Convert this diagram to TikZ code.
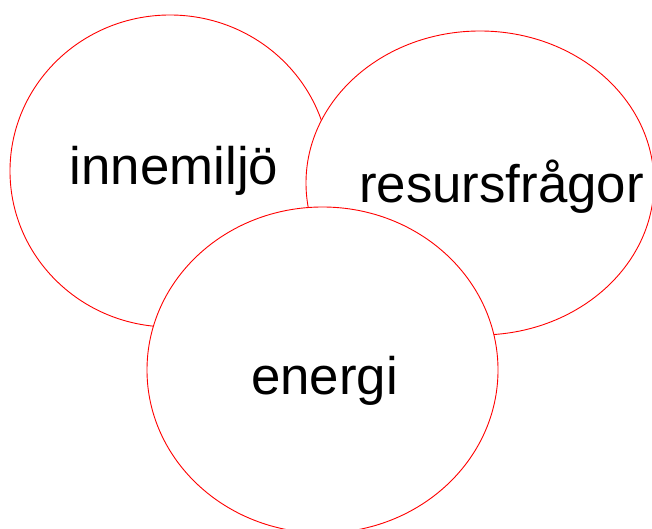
\documentclass[tikz,border=0pt]{standalone}
\usepackage{fontspec}
\setmainfont{Liberation Sans}
\usetikzlibrary{shapes.geometric}
\begin{document}
\begin{tikzpicture}[x=1bp,y=-1bp,
  blob/.style={ellipse,draw=red,fill=white,line width=0.9bp,inner sep=0pt},
  lbl/.style={anchor=base,font=\fontsize{53}{60}\selectfont,inner sep=0pt}]
\useasboundingbox (0,0) rectangle (652,529);
\node[blob,minimum width=320bp,minimum height=312bp] (c1) at (170,171) {};
\node[blob,minimum width=348bp,minimum height=304bp] (c2) at (480,183) {};
\node[blob,minimum width=351bp,minimum height=326bp] (c3) at (322.5,370) {};
\node[lbl] (t1) at (174,185) {innemiljö};
\node[lbl] (t2) at (501.5,203) {resursfrågor};
\node[lbl] (t3) at (324.5,394) {energi};
\end{tikzpicture}
\end{document}
